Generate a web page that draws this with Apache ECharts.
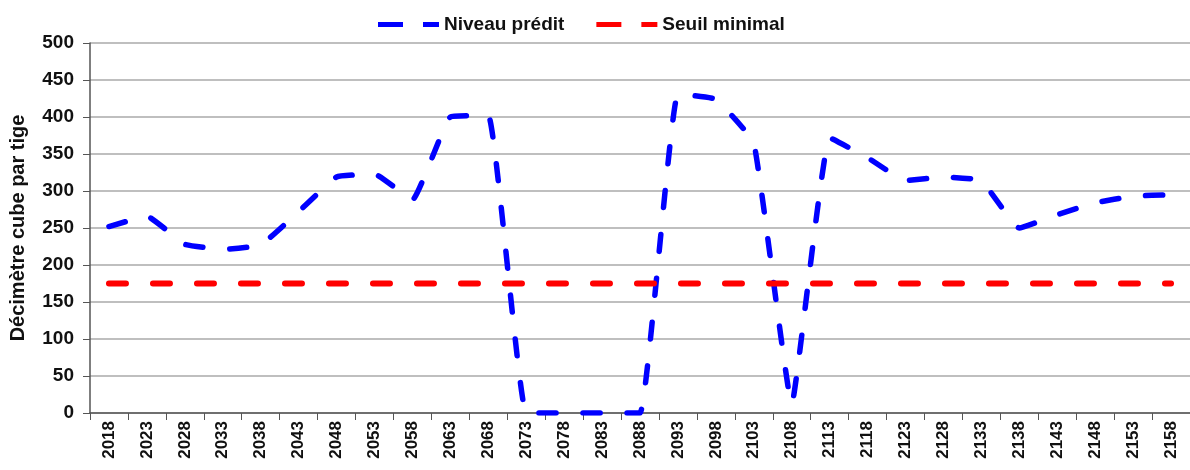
<!DOCTYPE html>
<html>
<head>
<meta charset="utf-8">
<script src="https://cdn.jsdelivr.net/npm/echarts@6/dist/echarts.min.js"></script>
<style>
  html, body { margin: 0; padding: 0; background: #fff; }
  #chart { width: 1190px; height: 470px; }
</style>
</head>
<body>
<div id="chart"></div>
<script>
// années (axe des x)
const years = ['2018', '2023', '2028', '2033', '2038', '2043', '2048', '2053', '2058', '2063',
  '2068', '2073', '2078', '2083', '2088', '2093', '2098', '2103', '2108', '2113',
  '2118', '2123', '2128', '2133', '2138', '2143', '2148', '2153', '2158'];
// niveau prédit (dm3 par tige)
const niveauPredit = [252, 266, 228, 221, 227, 272, 319, 323, 288, 400,
  402, 0, 0, 0, 0, 431, 424, 365, 12, 372,
  345, 314, 319, 314, 250, 268, 284, 293, 295];
// seuil minimal
const seuilMinimal = years.map(() => 175);

const fontFam = '"Liberation Sans", Arial, sans-serif';
// icone de légende : deux tirets
const dashIcon = 'path://M0,0H25V5H0Z M45,0H61V5H45Z';

const myChart = echarts.init(document.getElementById('chart'));
let option = {
  animation: false,
  textStyle: { fontFamily: fontFam },
  legend: {
    top: 10,
    left: 373,
    itemWidth: 61,
    itemHeight: 5,
    itemGap: 32,
    textStyle: { fontSize: 19, fontWeight: 'bold', color: '#111', fontFamily: fontFam },
    data: [
      { name: 'Niveau prédit', icon: dashIcon },
      { name: 'Seuil minimal', icon: dashIcon }
    ]
  },
  grid: {
    left: 89,
    top: 43,
    width: 1108,
    bottom: 57,
    containLabel: false
  },
  xAxis: {
    type: 'category',
    data: years,
    boundaryGap: true,
    axisLine: { lineStyle: { color: '#555', width: 1.5 } },
    axisTick: { show: true, length: 7, lineStyle: { color: '#555' } },
    axisLabel: {
      rotate: 90,
      interval: 0,
      margin: 8,
      fontSize: 17,
      fontWeight: 'bold',
      color: '#111',
      fontFamily: fontFam
    }
  },
  yAxis: {
    type: 'value',
    min: 0,
    max: 500,
    interval: 50,
    name: 'Décimètre cube par tige',
    nameLocation: 'middle',
    nameRotate: 90,
    nameGap: 62,
    nameTextStyle: { fontSize: 20, fontWeight: 'bold', color: '#111', fontFamily: fontFam },
    axisLine: { show: true, lineStyle: { color: '#555', width: 1.5 } },
    axisTick: { show: true, length: 7, lineStyle: { color: '#555' } },
    axisLabel: { fontSize: 19, fontWeight: 'bold', color: '#111', margin: 16, fontFamily: fontFam },
    splitLine: { lineStyle: { color: '#aaa', width: 1.5 } }
  },
  series: [
    {
      name: 'Niveau prédit',
      type: 'line',
      data: niveauPredit,
      symbol: 'none',
      smooth: 0.1,
      color: '#0000ff',
      lineStyle: { color: '#0000ff', width: 5.5, type: [17, 27], cap: 'round' }
    },
    {
      name: 'Seuil minimal',
      type: 'line',
      data: seuilMinimal,
      symbol: 'none',
      color: '#ff0000',
      lineStyle: { color: '#ff0000', width: 6, type: [17, 27], cap: 'round' }
    }
  ]
};
myChart.setOption(option);
</script>
</body>
</html>
